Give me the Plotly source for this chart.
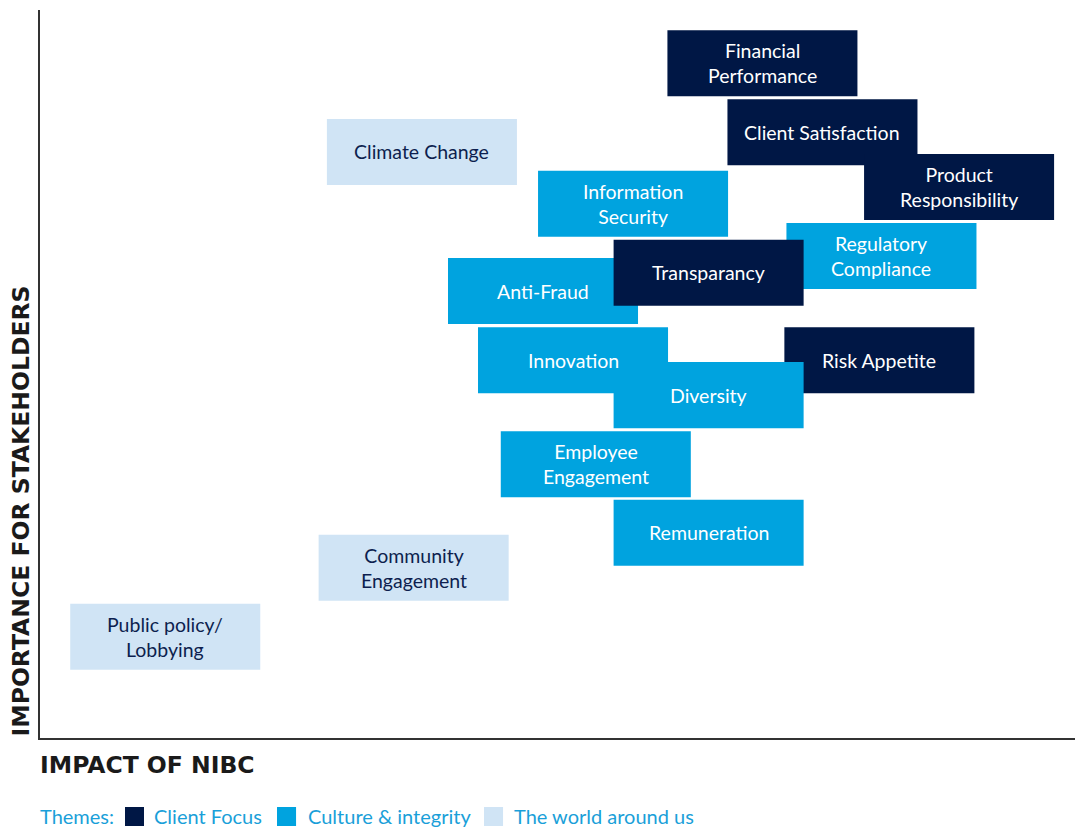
import plotly.graph_objects as go

# materiality topics, centre of each box (impact, importance) on a 0-100 scale
topics = ["Financial<br>Performance", "Client Satisfaction", "Climate Change",
          "Product<br>Responsibility", "Information<br>Security", "Regulatory<br>Compliance",
          "Anti-Fraud", "Transparancy", "Risk Appetite", "Innovation", "Diversity",
          "Employee<br>Engagement", "Remuneration", "Community<br>Engagement",
          "Public policy/<br>Lobbying"]
impact = [69.8, 75.6, 36.9, 88.8, 57.3, 81.3, 48.6, 64.6, 81.1, 51.5, 64.6, 53.7, 64.6, 36.1, 12.1]
importance = [92.7, 83.2, 80.5, 75.7, 73.4, 66.2, 61.4, 63.9, 51.9, 51.9, 47.1, 37.6, 28.2, 23.4, 13.9]
theme = ["Client Focus", "Client Focus", "The world around us", "Client Focus",
         "Culture & integrity", "Culture & integrity", "Culture & integrity", "Client Focus",
         "Client Focus", "Culture & integrity", "Culture & integrity", "Culture & integrity",
         "Culture & integrity", "The world around us", "The world around us"]

themes = ["Client Focus", "Culture & integrity", "The world around us"]
fill = {"Client Focus": "#001745", "Culture & integrity": "#00a3df", "The world around us": "#d0e4f5"}
ink = {"Client Focus": "white", "Culture & integrity": "white", "The world around us": "#0d1f4f"}

BOX_W = 18.36
BOX_H = 9.07
FONT = "Lato, 'Open Sans', sans-serif"
TITLE_FONT = "'DejaVu Sans', sans-serif"
LEGEND_COLOR = "#1a9fd9"

fig = go.Figure()

for t, x, y, th in zip(topics, impact, importance, theme):
    fig.add_shape(type="rect", xref="x", yref="y",
                  x0=x - BOX_W / 2, x1=x + BOX_W / 2,
                  y0=y - BOX_H / 2, y1=y + BOX_H / 2,
                  fillcolor=fill[th], line_width=0, layer="above")
    fig.add_annotation(x=x, y=y, xref="x", yref="y", text=t, showarrow=False,
                       font=dict(family=FONT, size=19.5, color=ink[th]))

# hand-made legend row under the x title
fig.add_annotation(xref="paper", yref="paper", x=-0.002, y=-0.107, xanchor="left", yanchor="middle",
                   text="Themes:", showarrow=False,
                   font=dict(family=FONT, size=20, color=LEGEND_COLOR))
square_x = [0.0821, 0.2290, 0.4290]
label_x = [0.1082, 0.2570, 0.4560]
for th, sx, lx in zip(themes, square_x, label_x):
    fig.add_shape(type="rect", xref="paper", yref="paper",
                  x0=sx, x1=sx + 0.0184, y0=-0.1209, y1=-0.0948,
                  fillcolor=fill[th], line_width=0)
    fig.add_annotation(xref="paper", yref="paper", x=lx, y=-0.107, xanchor="left", yanchor="middle",
                       text=th, showarrow=False,
                       font=dict(family=FONT, size=20, color=LEGEND_COLOR))

fig.add_annotation(xref="paper", yref="paper", x=-0.0184, y=0, xanchor="center", yanchor="bottom",
                   text="<b>IMPORTANCE FOR STAKEHOLDERS</b>", textangle=-90, showarrow=False,
                   font=dict(family=TITLE_FONT, size=23.5, color="#1a1a1a"))
fig.add_annotation(xref="paper", yref="paper", x=-0.002, y=-0.037, xanchor="left", yanchor="middle",
                   text="<b>IMPACT OF NIBC</b>", showarrow=False,
                   font=dict(family=TITLE_FONT, size=23.5, color="#1a1a1a"))

axis = dict(range=[0, 100], showgrid=False, zeroline=False, showticklabels=False,
            ticks="", showline=True, linecolor="#333333", linewidth=1.5)
fig.update_xaxes(**axis)
fig.update_yaxes(**axis)

fig.update_layout(
    width=1076, height=831,
    margin=dict(l=40, r=1, t=10, b=93, autoexpand=False),
    plot_bgcolor="white", paper_bgcolor="white",
    showlegend=False,
)

# drop the default page margin so the figure fills the window exactly
fig.write_html("out.html", config={"displayModeBar": False},
               post_script="document.body.style.margin = '0';")
